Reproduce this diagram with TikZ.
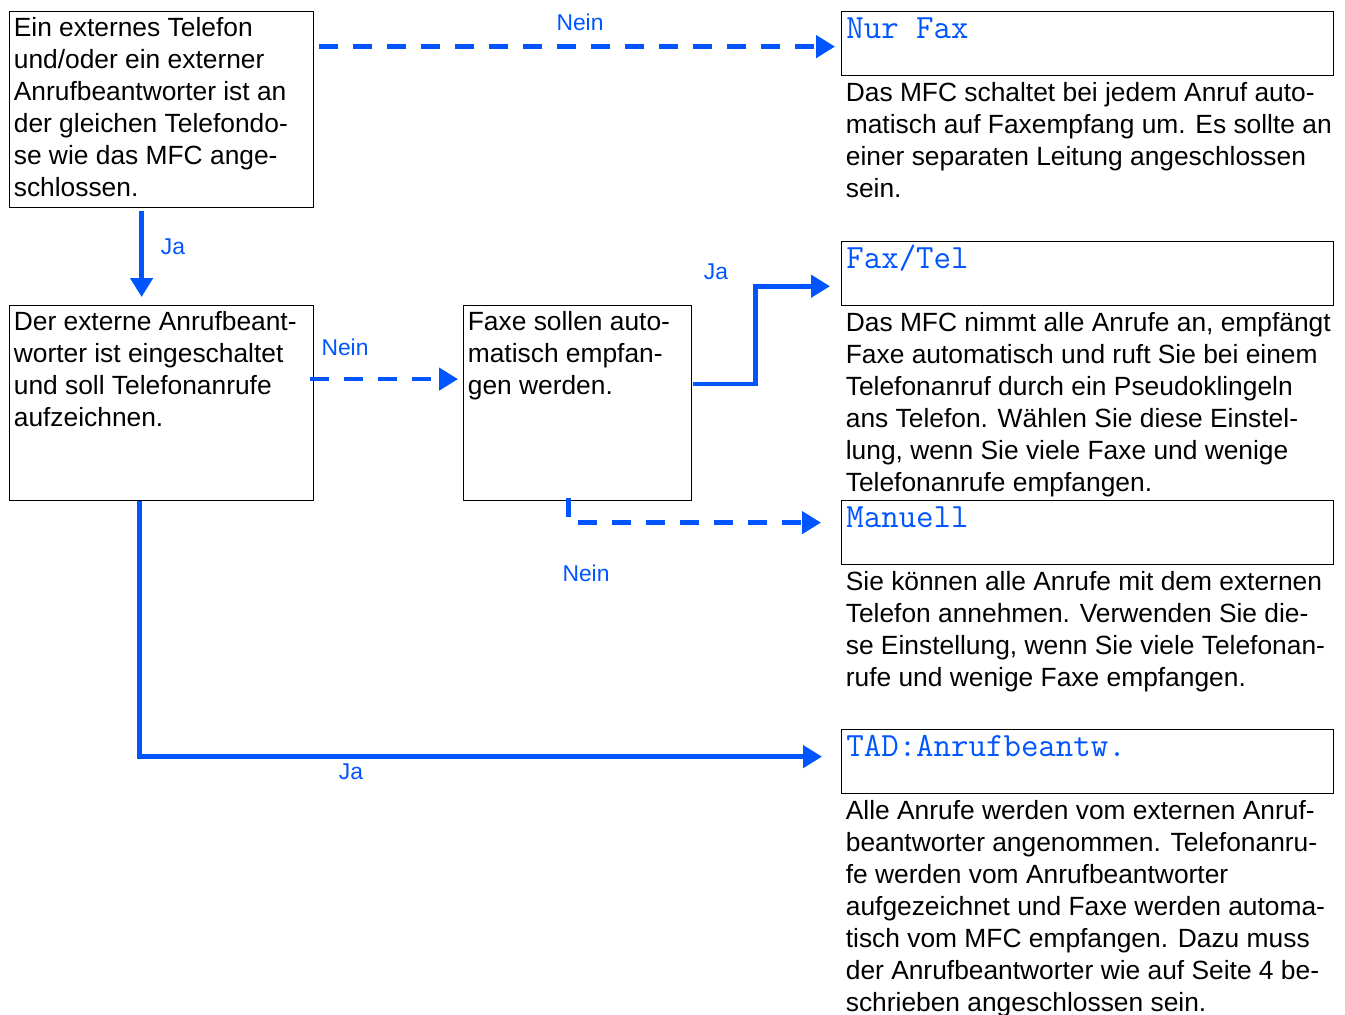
\documentclass[tikz,border=0pt]{standalone}
\usepackage{xcolor}
\usepackage{fontspec}
\setmainfont{Liberation Sans}
\usepackage{tikz}
\usetikzlibrary{arrows.meta,calc}
\definecolor{mfcblue}{RGB}{0,85,255}

\begin{document}
\begin{tikzpicture}[
    box/.style={draw,line width=0.7pt,anchor=north west,inner sep=0pt,minimum height=1.28cm},
    boxtext/.style={anchor=north west,align=left,inner xsep=0.09cm,inner ysep=0.12cm,font=\fontsize{15}{18.2}\selectfont},
    modetext/.style={anchor=north west,inner xsep=0.1cm,inner ysep=0.146cm,text height=0.4cm,text=mfcblue,font=\ttfamily\fontsize{19.3}{21}\selectfont},
    answer/.style={text=mfcblue,font=\fontsize{13}{15}\selectfont},
    flow/.style={mfcblue,line width=2.6pt,-{Triangle[length=0.38cm,width=0.44cm]}},
    noflow/.style={flow,dash pattern=on 0.38cm off 0.3cm}
]
    \useasboundingbox (0,0) rectangle (26.9,-20.28);

    % Questions
    \node[box,minimum width=6.08cm,minimum height=3.92cm] (phone) at (0.18,-0.22) {};
    \node[boxtext] (phonetext) at (phone.north west) {Ein externes Telefon\\und/oder ein externer\\Anrufbeantworter ist an\\der gleichen Telefondo-\\se wie das MFC ange-\\schlossen.};

    \node[box,minimum width=6.08cm,minimum height=3.9cm] (amon) at (0.18,-6.10) {};
    \node[boxtext] (amontext) at (amon.north west) {Der externe Anrufbeant-\\worter ist eingeschaltet\\und soll Telefonanrufe\\aufzeichnen.};

    \node[box,minimum width=4.56cm,minimum height=3.9cm] (auto) at (9.26,-6.10) {};
    \node[boxtext] (autotext) at (auto.north west) {Faxe sollen auto-\\matisch empfan-\\gen werden.};

    % Receive modes
    \node[box,minimum width=9.84cm] (nurfax) at (16.82,-0.22) {};
    \node[modetext] (nurfaxname) at (nurfax.north west) {Nur Fax};
    \node[boxtext] (nurfaxtext) at (nurfax.south west) {Das MFC schaltet bei jedem Anruf auto-\\matisch auf Faxempfang um. Es sollte an\\einer separaten Leitung angeschlossen\\sein.};

    \node[box,minimum width=9.84cm] (faxtel) at (16.82,-4.82) {};
    \node[modetext] (faxtelname) at (faxtel.north west) {Fax/Tel};
    \node[boxtext] (faxteltext) at (faxtel.south west) {Das MFC nimmt alle Anrufe an, empfängt\\Faxe automatisch und ruft Sie bei einem\\Telefonanruf durch ein Pseudoklingeln\\ans Telefon. Wählen Sie diese Einstel-\\lung, wenn Sie viele Faxe und wenige\\Telefonanrufe empfangen.};

    \node[box,minimum width=9.84cm] (manuell) at (16.82,-10.00) {};
    \node[modetext] (manuellname) at (manuell.north west) {Manuell};
    \node[boxtext] (manuelltext) at (manuell.south west) {Sie können alle Anrufe mit dem externen\\Telefon annehmen. Verwenden Sie die-\\se Einstellung, wenn Sie viele Telefonan-\\rufe und wenige Faxe empfangen.};

    \node[box,minimum width=9.84cm] (tad) at (16.82,-14.58) {};
    \node[modetext] (tadname) at (tad.north west) {TAD:Anrufbeantw.};
    \node[boxtext] (tadtext) at (tad.south west) {Alle Anrufe werden vom externen Anruf-\\beantworter angenommen. Telefonanru-\\fe werden vom Anrufbeantworter\\aufgezeichnet und Faxe werden automa-\\tisch vom MFC empfangen. Dazu muss\\der Anrufbeantworter wie auf Seite 4 be-\\schrieben angeschlossen sein.};

    % Connectors
    \draw[noflow] ([xshift=0.1cm,yshift=-0.06cm]phone.east |- nurfax.west) -- ([xshift=-0.12cm,yshift=-0.06cm]nurfax.west);
    \draw[flow] ([xshift=-0.4cm,yshift=-0.06cm]phone.south) -- ([xshift=-0.4cm,yshift=0.16cm]amon.north);
    \draw[noflow] ([xshift=-0.08cm,yshift=0.48cm]amon.east) -- ([xshift=-0.1cm,yshift=0.48cm]auto.west);
    \draw[flow] ([xshift=0.02cm,yshift=0.38cm]auto.east) -- ++(1.24,0) |- ([xshift=-0.22cm,yshift=0.4cm]faxtel.south west);
    \draw[noflow] ([xshift=-0.18cm,yshift=0.06cm]auto.south) |- ([xshift=-0.4cm,yshift=0.2cm]manuell.west);
    \draw[flow] ([xshift=-0.44cm]amon.south) |- ([xshift=-0.38cm,yshift=0.1cm]tad.west);

    % Answers
    \node[answer] (nein1) at (11.6,-0.44) {Nein};
    \node[answer] (ja1) at (3.46,-4.94) {Ja};
    \node[answer] (nein2) at (6.9,-6.94) {Nein};
    \node[answer] (ja2) at (14.32,-5.44) {Ja};
    \node[answer] (nein3) at (11.72,-11.46) {Nein};
    \node[answer] (ja3) at (7.02,-15.44) {Ja};
\end{tikzpicture}
\end{document}
